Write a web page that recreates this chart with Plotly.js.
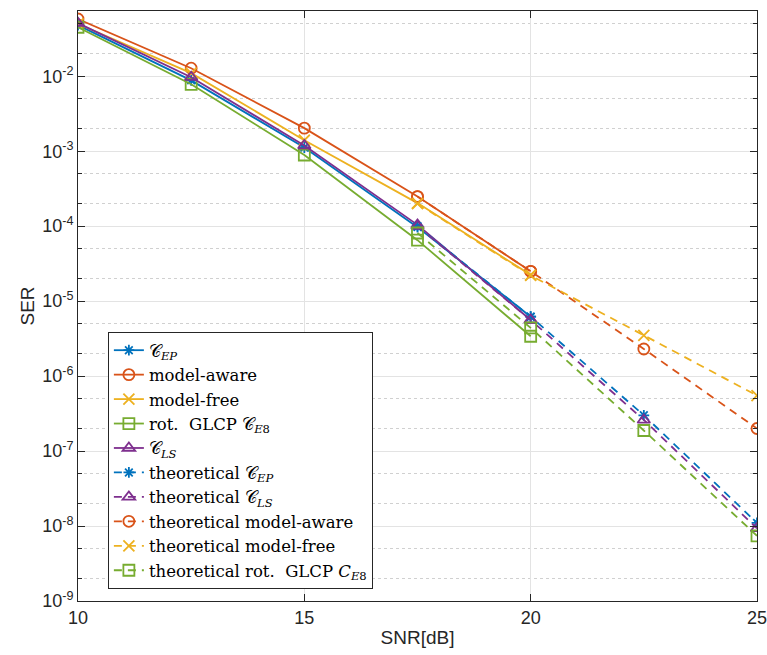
<!DOCTYPE html>
<html><head><meta charset="utf-8">
<script src="https://cdn.plot.ly/plotly-3.0.1.min.js"></script>
<style>body{margin:0;background:#fff}#plot{width:767px;height:655px}</style>
</head><body><div id="plot"></div>
<script>
const snrSim = [10, 12.5, 15, 17.5, 20];
const snrTheo = [17.5, 20, 22.5, 25];
const serEP = [0.048, 0.0088, 0.00112, 9.7e-5, 6.2e-6];
const serAware = [0.058, 0.0128, 0.00203, 2.48e-4, 2.5e-5];
const serFree = [0.05, 0.011, 0.0014, 2.03e-4, 2.24e-5];
const serGLCP = [0.045, 0.0078, 0.00089, 6.5e-5, 3.4e-6];
const serLS = [0.051, 0.0097, 0.00119, 1.04e-4, 5.6e-6];
const theoEP = [1.0e-4, 6.2e-6, 3.0e-7, 1.1e-8];
const theoLS = [1.0e-4, 5.6e-6, 2.6e-7, 9.3e-9];
const theoAware = [2.48e-4, 2.5e-5, 2.3e-6, 2.0e-7];
const theoFree = [2.0e-4, 2.2e-5, 3.5e-6, 5.5e-7];
const theoGLCP = [8.1e-5, 4.4e-6, 1.88e-7, 7.4e-9];
const names = [
  '𝒞<sub><i>EP</i></sub>',
  'model-aware',
  'model-free',
  'rot.  GLCP 𝒞<sub><i>E</i>8</sub>',
  '𝒞<sub><i>LS</i></sub>',
  'theoretical 𝒞<sub><i>EP</i></sub>',
  'theoretical 𝒞<sub><i>LS</i></sub>',
  'theoretical model-aware',
  'theoretical model-free',
  'theoretical rot.  GLCP <i>C</i><sub><i>E</i>8</sub>'
];
const yTickVals = [1e-9,1e-8,1e-7,1e-6,1e-5,1e-4,1e-3,1e-2];
const yTickText = ['10<sup>-9</sup>','10<sup>-8</sup>','10<sup>-7</sup>','10<sup>-6</sup>','10<sup>-5</sup>','10<sup>-4</sup>','10<sup>-3</sup>','10<sup>-2</sup>'];
const xTickVals = [10, 15, 20, 25];

const C = {blue:'#0072BD', orange:'#D95319', yellow:'#EDB120', green:'#77AC30', purple:'#7E2F8E'};
function tr(x, y, name, color, sym, dash){
  return {x:x, y:y, name:name, type:'scatter', mode:'lines+markers',
    line:{color:color, width:1.8, dash:dash},
    marker:{symbol:sym, size:sym==='asterisk-open'?9:11, color:color, line:{color:color, width:1.8}}};
}
const data = [
  tr(snrSim, serEP, names[0], C.blue, 'asterisk-open', 'solid'),
  tr(snrSim, serAware, names[1], C.orange, 'circle-open', 'solid'),
  tr(snrSim, serFree, names[2], C.yellow, 'x-thin-open', 'solid'),
  tr(snrSim, serGLCP, names[3], C.green, 'square-open', 'solid'),
  tr(snrSim, serLS, names[4], C.purple, 'triangle-up-open', 'solid'),
  tr(snrTheo, theoEP, names[5], C.blue, 'asterisk-open', '8px,6px'),
  tr(snrTheo, theoLS, names[6], C.purple, 'triangle-up-open', '8px,6px'),
  tr(snrTheo, theoAware, names[7], C.orange, 'circle-open', '8px,6px'),
  tr(snrTheo, theoFree, names[8], C.yellow, 'x-thin-open', '8px,6px'),
  tr(snrTheo, theoGLCP, names[9], C.green, 'square-open', '8px,6px')
];
const layout = {
  width:767, height:655,
  margin:{l:78, r:10, t:11, b:54},
  paper_bgcolor:'#fff', plot_bgcolor:'#fff',
  font:{family:'Liberation Sans, Arial, sans-serif', size:18, color:'#262626'},
  showlegend:true,
  legend:{x:0.044, y:0.456, xanchor:'left', yanchor:'top', bgcolor:'#fff',
    bordercolor:'#262626', borderwidth:1,
    font:{family:'DejaVu Serif, Liberation Serif, serif', size:16.5, color:'#000'},
    tracegroupgap:0, itemwidth:30},
  xaxis:{range:[10,25], tickvals:xTickVals, ticktext:xTickVals.map(String),
    showgrid:true, gridcolor:'#e3e3e3', gridwidth:1,
    ticks:'inside', ticklen:7, tickcolor:'#262626', showline:true, linecolor:'#262626', linewidth:1,
    mirror:'ticks', zeroline:false, ticklabeloverflow:'allow',
    tickfont:{size:18, color:'#262626'},
    title:{text:'SNR[dB]', font:{size:19, color:'#262626'}, standoff:4}},
  yaxis:{type:'log', range:[-9, -1.13], tickvals:yTickVals, ticktext:yTickText,
    showgrid:true, gridcolor:'#e3e3e3', gridwidth:1,
    ticks:'inside', ticklen:7, tickcolor:'#262626', showline:true, linecolor:'#262626', linewidth:1,
    mirror:'ticks', zeroline:false, ticklabeloverflow:'allow',
    tickfont:{size:18, color:'#262626'},
    minor:{showgrid:true, gridcolor:'#d0d0d0', griddash:'dot', gridwidth:1, ticks:'inside', ticklen:4, tickcolor:'#262626'},
    title:{text:'SER', font:{size:19, color:'#262626'}, standoff:2}}
};
Plotly.newPlot('plot', data, layout, {displayModeBar:false, staticPlot:true});
</script></body></html>
